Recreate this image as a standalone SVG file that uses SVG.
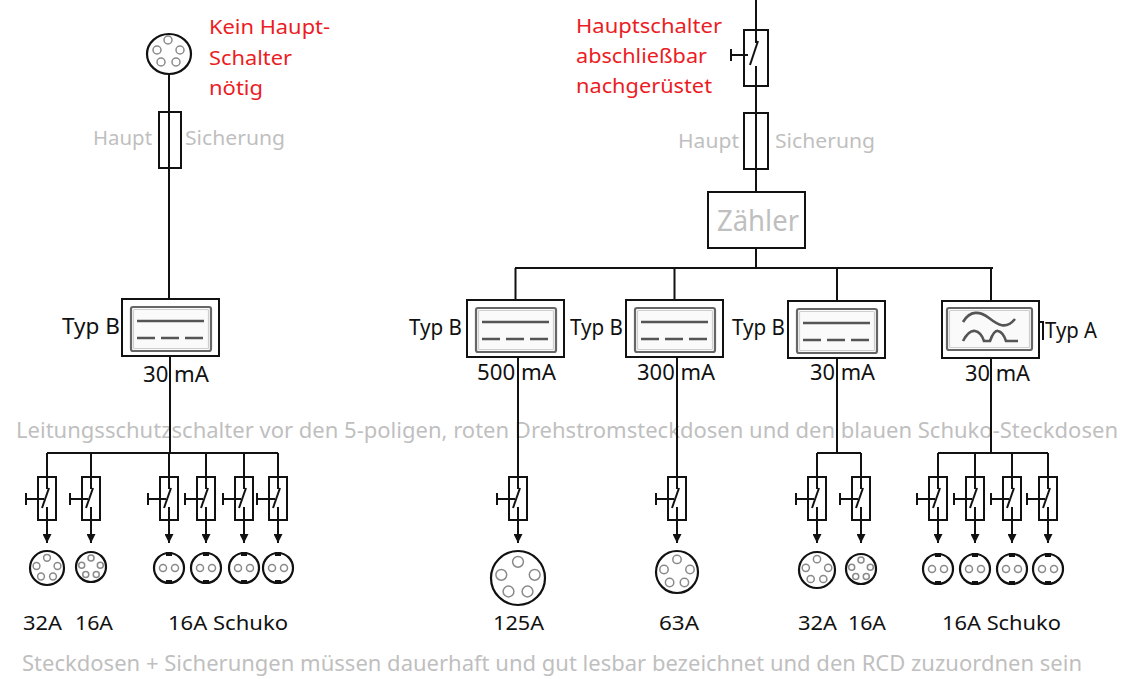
<svg xmlns="http://www.w3.org/2000/svg" xmlns:xlink="http://www.w3.org/1999/xlink" width="1124" height="679" viewBox="0 0 1124 679">
<style>
text{font-family:"Noto Sans","Open Sans","Liberation Sans",sans-serif;font-size:20px}
.red{fill:#ec1c24}
.gray{fill:#bfbfbf}
.blk{fill:#111}
.big{font-size:22px}
.ln{stroke:#111;stroke-width:2;fill:none}
.box{stroke:#111;stroke-width:2;fill:#fff}
.inner{stroke:#666;stroke-width:2.2;fill:#fafafa}
.inner2{stroke:#cfcfcf;stroke-width:1.2;fill:none}
.sym{stroke:#555;stroke-width:2.6;fill:none}
.hole{stroke:#8a8a8a;stroke-width:1.5;fill:#fff}
.sock{stroke:#111;stroke-width:2.2;fill:#fff}
</style>
<defs>
<marker id="arr" markerWidth="10" markerHeight="9" refX="9" refY="4.5" orient="auto" markerUnits="userSpaceOnUse">
<path d="M0,0 L9,4.5 L0,9 Z" fill="#111"/>
</marker>
<g id="mcb">
<rect x="-9" y="0" width="18" height="43" class="box"/>
<line x1="0" y1="0" x2="0" y2="12" class="ln" stroke-width="1.6"/>
<line x1="-5" y1="31" x2="2" y2="11" class="ln" stroke-width="1.6"/>
<line x1="0" y1="30" x2="0" y2="43" class="ln" stroke-width="1.6"/>
<line x1="-21" y1="22" x2="-3" y2="22" class="ln" stroke-width="1.6"/>
<line x1="-21" y1="16" x2="-21" y2="28" class="ln" stroke-width="1.6"/>
</g>
<g id="rcdB">
<rect x="0" y="0" width="97" height="57" class="box"/>
<rect x="9" y="8" width="80" height="44" rx="2" class="inner"/>
<rect x="11.5" y="10.5" width="75" height="39" rx="1" class="inner2"/>
<line x1="15" y1="22" x2="82" y2="22" class="sym"/>
<line x1="15" y1="39" x2="82" y2="39" class="sym" stroke-dasharray="18 6"/>
</g>
<g id="schuko">
<circle cx="0" cy="0" r="15" class="sock"/>
<rect x="-3" y="-16" width="6" height="4" fill="#111"/>
<rect x="-3" y="12" width="6" height="4" fill="#111"/>
<circle cx="-6" cy="0" r="3.5" class="hole"/>
<circle cx="6" cy="0" r="3.5" class="hole"/>
</g>
</defs>
<rect width="1124" height="679" fill="#fff"/>

<g id="texts">
<text class="red" x="209" y="34" textLength="121" lengthAdjust="spacingAndGlyphs">Kein Haupt-</text>
<text class="red" x="209" y="65" textLength="83" lengthAdjust="spacingAndGlyphs">Schalter</text>
<text class="red" x="209" y="95" textLength="54" lengthAdjust="spacingAndGlyphs">nötig</text>
<text class="red" x="576" y="33" textLength="146" lengthAdjust="spacingAndGlyphs">Hauptschalter</text>
<text class="red" x="576" y="63" textLength="131" lengthAdjust="spacingAndGlyphs">abschließbar</text>
<text class="red" x="576" y="93" textLength="136" lengthAdjust="spacingAndGlyphs">nachgerüstet</text>
<text class="gray" x="93" y="145" textLength="59" lengthAdjust="spacingAndGlyphs">Haupt</text>
<text class="gray" x="185" y="145" textLength="100" lengthAdjust="spacingAndGlyphs">Sicherung</text>
<text class="gray" x="678" y="148" textLength="61" lengthAdjust="spacingAndGlyphs">Haupt</text>
<text class="gray" x="775" y="148" textLength="100" lengthAdjust="spacingAndGlyphs">Sicherung</text>
<text class="gray big" x="16" y="438" textLength="1102" lengthAdjust="spacingAndGlyphs">Leitungsschutzschalter vor den 5-poligen, roten Drehstromsteckdosen und den blauen Schuko-Steckdosen</text>
<text class="gray big" x="22" y="671" textLength="1060" lengthAdjust="spacingAndGlyphs">Steckdosen + Sicherungen müssen dauerhaft und gut lesbar bezeichnet und den RCD zuzuordnen sein</text>
<text class="blk big" x="62" y="334" textLength="58" lengthAdjust="spacingAndGlyphs">Typ B</text>
<text class="blk big" x="143" y="382" textLength="66" lengthAdjust="spacingAndGlyphs">30 mA</text>
<text class="blk big" x="409" y="335" textLength="53" lengthAdjust="spacingAndGlyphs">Typ B</text>
<text class="blk big" x="570" y="335" textLength="53" lengthAdjust="spacingAndGlyphs">Typ B</text>
<text class="blk big" x="732" y="335" textLength="53" lengthAdjust="spacingAndGlyphs">Typ B</text>
<text class="blk big" x="1045" y="338" textLength="52" lengthAdjust="spacingAndGlyphs">Typ A</text>
<text class="blk big" x="477" y="380" textLength="79" lengthAdjust="spacingAndGlyphs">500 mA</text>
<text class="blk big" x="637" y="380" textLength="78" lengthAdjust="spacingAndGlyphs">300 mA</text>
<text class="blk big" x="810" y="380" textLength="65" lengthAdjust="spacingAndGlyphs">30 mA</text>
<text class="blk big" x="965" y="381" textLength="65" lengthAdjust="spacingAndGlyphs">30 mA</text>
<text class="blk" x="23" y="630" textLength="39" lengthAdjust="spacingAndGlyphs">32A</text>
<text class="blk" x="75" y="630" textLength="38" lengthAdjust="spacingAndGlyphs">16A</text>
<text class="blk" x="168" y="630" textLength="120" lengthAdjust="spacingAndGlyphs">16A Schuko</text>
<text class="blk" x="493" y="630" textLength="51" lengthAdjust="spacingAndGlyphs">125A</text>
<text class="blk" x="659" y="630" textLength="40" lengthAdjust="spacingAndGlyphs">63A</text>
<text class="blk" x="798" y="630" textLength="39" lengthAdjust="spacingAndGlyphs">32A</text>
<text class="blk" x="848" y="630" textLength="38" lengthAdjust="spacingAndGlyphs">16A</text>
<text class="blk" x="942" y="630" textLength="119" lengthAdjust="spacingAndGlyphs">16A Schuko</text>
</g>

<g id="connectors" class="ln">
<path d="M169,74 V299"/>
<path d="M170,357 V453"/>
<path d="M47,453 H278"/>
<path d="M47,453 V477 M91,453 V477 M169,453 V477 M206,453 V477 M244,453 V477 M278,453 V477"/>
<path d="M756,0 V30"/>
<path d="M756,86 V192"/>
<path d="M756,248 V268"/>
<path d="M515,268 H993"/>
<path d="M515.5,268 V300 M674.5,268 V300 M837,268 V301 M991,268 V301"/>
<path d="M518,357 V477"/>
<path d="M677,357 V477"/>
<path d="M837,358 V453 M817,453 H861 M817,453 V477 M861,453 V477"/>
<path d="M991,358 V453 M938,453 H1048 M938,453 V477 M975,453 V477 M1012,453 V477 M1048,453 V477"/>
<g marker-end="url(#arr)">
<line x1="47" y1="520" x2="47" y2="543"/>
<line x1="91" y1="520" x2="91" y2="543"/>
<line x1="169" y1="520" x2="169" y2="543"/>
<line x1="206" y1="520" x2="206" y2="543"/>
<line x1="244" y1="520" x2="244" y2="543"/>
<line x1="278" y1="520" x2="278" y2="543"/>
<line x1="518" y1="520" x2="518" y2="543"/>
<line x1="677" y1="520" x2="677" y2="543"/>
<line x1="817" y1="520" x2="817" y2="543"/>
<line x1="861" y1="520" x2="861" y2="543"/>
<line x1="938" y1="520" x2="938" y2="543"/>
<line x1="975" y1="520" x2="975" y2="543"/>
<line x1="1012" y1="520" x2="1012" y2="543"/>
<line x1="1048" y1="520" x2="1048" y2="543"/>
</g>
</g>

<g id="socket-top">
<ellipse cx="169" cy="54" rx="22" ry="20" class="sock"/>
<circle cx="168" cy="40" r="4" class="hole"/>
<circle cx="157" cy="50" r="4" class="hole"/>
<circle cx="180" cy="50" r="4" class="hole"/>
<circle cx="161" cy="62" r="4" class="hole"/>
<circle cx="176" cy="62" r="4" class="hole"/>
</g>
<g id="fuse-left"><rect x="159" y="112" width="22" height="56" fill="none" stroke="#111" stroke-width="2"/></g>

<g id="main-switch">
<rect x="744" y="30" width="24" height="56" fill="#fff" stroke="#111" stroke-width="2"/>
<line x1="756" y1="30" x2="756" y2="43" class="ln"/>
<line x1="750" y1="65" x2="758" y2="41" class="ln"/>
<line x1="756" y1="66" x2="756" y2="86" class="ln"/>
<line x1="731" y1="55" x2="748" y2="55" class="ln"/>
<line x1="731" y1="49" x2="731" y2="61" class="ln"/>
</g>
<g id="fuse-right"><rect x="744" y="113" width="24" height="56" fill="none" stroke="#111" stroke-width="2"/></g>
<g id="zaehler">
<rect x="708" y="192" width="97" height="56" class="box"/>
<text class="gray" x="717" y="231" textLength="82" lengthAdjust="spacingAndGlyphs" style="font-size:29px">Zähler</text>
</g>

<g id="rcd-left"><use xlink:href="#rcdB" x="122" y="299"/></g>
<g id="rcd-1"><use xlink:href="#rcdB" x="467" y="300"/></g>
<g id="rcd-2"><use xlink:href="#rcdB" x="626" y="300"/></g>
<g id="rcd-3"><use xlink:href="#rcdB" x="788" y="301"/></g>
<g id="rcd-4">
<rect x="942" y="301" width="97" height="57" class="box"/>
<rect x="947" y="308" width="85" height="42" rx="2" class="inner"/>
<rect x="949.5" y="310.5" width="80" height="37" rx="1" class="inner2"/>
<path d="M963,322 C970,310 980,311 989,318 S1006,330 1015,319" class="sym"/>
<path d="M963,341 Q969,330 975,331 Q981,332 984,341 L990,341 Q994,330 998,331 Q1003,332 1006,341 L1018,341" class="sym"/>
<path d="M1039,322 H1043 V340" class="ln" stroke-width="1.5"/>
</g>

<g id="mcb-left">
<use xlink:href="#mcb" x="47" y="477"/>
<use xlink:href="#mcb" x="91" y="477"/>
<use xlink:href="#mcb" x="169" y="477"/>
<use xlink:href="#mcb" x="206" y="477"/>
<use xlink:href="#mcb" x="244" y="477"/>
<use xlink:href="#mcb" x="278" y="477"/>
</g>
<g id="mcb-1"><use xlink:href="#mcb" x="518" y="477"/></g>
<g id="mcb-2"><use xlink:href="#mcb" x="677" y="477"/></g>
<g id="mcb-3">
<use xlink:href="#mcb" x="817" y="477"/>
<use xlink:href="#mcb" x="861" y="477"/>
</g>
<g id="mcb-4">
<use xlink:href="#mcb" x="938" y="477"/>
<use xlink:href="#mcb" x="975" y="477"/>
<use xlink:href="#mcb" x="1012" y="477"/>
<use xlink:href="#mcb" x="1048" y="477"/>
</g>

<g id="sockets-left">
<g id="s-32a-l">
<circle cx="47" cy="568" r="17" class="sock"/>
<circle cx="47" cy="557.8" r="3.4" class="hole"/>
<circle cx="36.5" cy="566" r="3.4" class="hole"/>
<circle cx="57.5" cy="566" r="3.4" class="hole"/>
<circle cx="41" cy="576.5" r="3.4" class="hole"/>
<circle cx="53" cy="576.5" r="3.4" class="hole"/>
</g>
<g id="s-16a-l">
<circle cx="91" cy="567" r="15" class="sock"/>
<circle cx="91" cy="558" r="3" class="hole"/>
<circle cx="81.7" cy="565.2" r="3" class="hole"/>
<circle cx="100.3" cy="565.2" r="3" class="hole"/>
<circle cx="85.75" cy="574.5" r="3" class="hole"/>
<circle cx="96.25" cy="574.5" r="3" class="hole"/>
</g>
<use xlink:href="#schuko" x="169" y="568"/>
<use xlink:href="#schuko" x="206" y="568"/>
<use xlink:href="#schuko" x="244" y="568"/>
<use xlink:href="#schuko" x="278" y="568"/>
</g>

<g id="socket-125a">
<circle cx="518" cy="578" r="27" class="sock" stroke-width="3.5"/>
<circle cx="518" cy="561.8" r="5.4" class="hole"/>
<circle cx="501.3" cy="574.8" r="5.4" class="hole"/>
<circle cx="534.7" cy="574.8" r="5.4" class="hole"/>
<circle cx="508.5" cy="591.5" r="5.4" class="hole"/>
<circle cx="527.5" cy="591.5" r="5.4" class="hole"/>
</g>
<g id="socket-63a">
<circle cx="677" cy="572" r="21" class="sock" stroke-width="3"/>
<circle cx="677" cy="559.4" r="4.2" class="hole"/>
<circle cx="664" cy="569.5" r="4.2" class="hole"/>
<circle cx="690" cy="569.5" r="4.2" class="hole"/>
<circle cx="669.6" cy="582.5" r="4.2" class="hole"/>
<circle cx="684.4" cy="582.5" r="4.2" class="hole"/>
</g>
<g id="sockets-3">
<circle cx="817" cy="570" r="18" class="sock"/>
<circle cx="817" cy="559.2" r="3.6" class="hole"/>
<circle cx="805.8" cy="567.8" r="3.6" class="hole"/>
<circle cx="828.2" cy="567.8" r="3.6" class="hole"/>
<circle cx="810.7" cy="579" r="3.6" class="hole"/>
<circle cx="823.3" cy="579" r="3.6" class="hole"/>
<circle cx="861" cy="569" r="15" class="sock"/>
<circle cx="861" cy="560" r="3" class="hole"/>
<circle cx="851.7" cy="567.2" r="3" class="hole"/>
<circle cx="870.3" cy="567.2" r="3" class="hole"/>
<circle cx="855.75" cy="576.5" r="3" class="hole"/>
<circle cx="866.25" cy="576.5" r="3" class="hole"/>
</g>
<g id="sockets-4">
<use xlink:href="#schuko" x="938" y="569"/>
<use xlink:href="#schuko" x="975" y="569"/>
<use xlink:href="#schuko" x="1012" y="569"/>
<use xlink:href="#schuko" x="1048" y="569"/>
</g>
</svg>
